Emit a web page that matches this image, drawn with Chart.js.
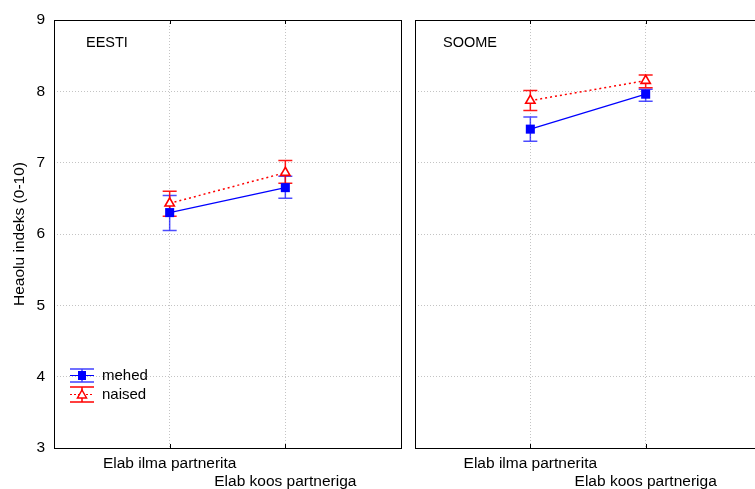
<!DOCTYPE html>
<html>
<head>
<meta charset="utf-8">
<script src="https://cdn.jsdelivr.net/npm/chart.js@4/dist/chart.umd.min.js"></script>
<style>
  html, body { margin: 0; padding: 0; background: #fff; overflow: hidden; width: 755px; height: 489px; }
  .panel { position: absolute; top: 0; height: 489px; }
</style>
</head>
<body>
<div class="panel" style="left:0;width:408px"><canvas id="eesti"></canvas></div>
<div class="panel" style="left:408px;width:360px"><canvas id="soome"></canvas></div>
<script>
/* DATA */
const categories = ["Elab ilma partnerita", "Elab koos partneriga"];
const yTicks = [3, 4, 5, 6, 7, 8, 9];

const eestiMehed = [6.30, 6.65];
const eestiMehedLow = [6.05, 6.50];
const eestiMehedHigh = [6.54, 6.81];
const eestiNaised = [6.43, 6.86];
const eestiNaisedLow = [6.25, 6.71];
const eestiNaisedHigh = [6.60, 7.03];

const soomeMehed = [7.47, 7.96];
const soomeMehedLow = [7.30, 7.86];
const soomeMehedHigh = [7.64, 8.03];
const soomeNaised = [7.87, 8.15];
const soomeNaisedLow = [7.73, 8.05];
const soomeNaisedHigh = [8.01, 8.23];

const FONT = "Liberation Sans, Arial, sans-serif";
const BLUE = "#0000ff";
const RED = "#ff0000";
const GRID = "#c4c4c4";

function pts(vals) {
    return vals.map((v, i) => ({ x: i, y: v }));
}

/* error bars + box + panel title + optional legend */
function panelPlugin(title, titleX, bars, showLegend) {
    return {
        id: "panel",
        beforeDatasetsDraw(chart) {
            const ctx = chart.ctx, xs = chart.scales.x, ys = chart.scales.y;
            ctx.save();
            bars.forEach(b => {
                ctx.strokeStyle = b.color;
                ctx.lineWidth = 1.5;
                b.low.forEach((lo, i) => {
                    const x = xs.getPixelForValue(i);
                    const y1 = ys.getPixelForValue(lo), y2 = ys.getPixelForValue(b.high[i]);
                    ctx.beginPath();
                    ctx.moveTo(x, y1); ctx.lineTo(x, y2);
                    ctx.moveTo(x - 7, y1); ctx.lineTo(x + 7, y1);
                    ctx.moveTo(x - 7, y2); ctx.lineTo(x + 7, y2);
                    ctx.stroke();
                });
            });
            ctx.restore();
        },
        afterDraw(chart) {
            const ctx = chart.ctx, a = chart.chartArea;
            ctx.save();
            ctx.strokeStyle = "#000";
            ctx.lineWidth = 1;
            ctx.strokeRect(Math.round(a.left) + 0.5, Math.round(a.top) + 0.5,
                Math.round(a.right - a.left), Math.round(a.bottom - a.top));
            // category tick marks inside top and bottom
            const xs = chart.scales.x;
            ctx.beginPath();
            categories.forEach((c, i) => {
                const x = Math.round(xs.getPixelForValue(i)) + 0.5;
                ctx.moveTo(x, a.top); ctx.lineTo(x, a.top + 4);
                ctx.moveTo(x, a.bottom); ctx.lineTo(x, a.bottom - 4);
            });
            ctx.stroke();
            ctx.fillStyle = "#000";
            ctx.font = "14.5px " + FONT;
            ctx.textBaseline = "middle";
            ctx.textAlign = "left";
            ctx.fillText(title, a.left + titleX, 43);
            if (showLegend) {
                const lx = 82;
                // mehed
                ctx.strokeStyle = "rgba(0,0,255,0.75)";
                ctx.lineWidth = 1.5;
                ctx.beginPath();
                ctx.moveTo(lx - 12, 369); ctx.lineTo(lx + 12, 369);
                ctx.moveTo(lx - 12, 382); ctx.lineTo(lx + 12, 382);
                ctx.moveTo(lx, 369); ctx.lineTo(lx, 382);
                ctx.stroke();
                ctx.strokeStyle = BLUE; ctx.lineWidth = 1;
                ctx.beginPath(); ctx.moveTo(lx - 12, 375.5); ctx.lineTo(lx + 12, 375.5); ctx.stroke();
                ctx.fillStyle = BLUE;
                ctx.fillRect(lx - 4, 371, 8, 9);
                // naised
                ctx.strokeStyle = RED; ctx.lineWidth = 1.5;
                ctx.beginPath();
                ctx.moveTo(lx - 12, 387); ctx.lineTo(lx + 12, 387);
                ctx.moveTo(lx - 12, 402); ctx.lineTo(lx + 12, 402);
                ctx.moveTo(lx, 387); ctx.lineTo(lx, 402);
                ctx.stroke();
                ctx.lineWidth = 1; ctx.setLineDash([2, 2]);
                ctx.beginPath(); ctx.moveTo(lx - 12, 394.5); ctx.lineTo(lx + 12, 394.5); ctx.stroke();
                ctx.setLineDash([]);
                ctx.fillStyle = "#fff"; ctx.lineWidth = 1.5;
                ctx.beginPath();
                ctx.moveTo(lx, 390); ctx.lineTo(lx + 4.5, 398); ctx.lineTo(lx - 4.5, 398); ctx.closePath();
                ctx.fill(); ctx.stroke();
                ctx.fillStyle = "#000";
                ctx.font = "15px " + FONT;
                ctx.fillText("mehed", 102, 376);
                ctx.fillText("naised", 102, 395);
            }
            ctx.restore();
        }
    };
}

function makeChart(id, title, titleX, mehed, mLow, mHigh, naised, nLow, nHigh, isLeft) {
    return new Chart(document.getElementById(id), {
        type: "line",
        data: {
            datasets: [{
                label: "mehed",
                data: pts(mehed),
                borderColor: BLUE,
                backgroundColor: BLUE,
                borderWidth: 1.2,
                pointStyle: "rect",
                pointRadius: 6.4,
                pointBorderWidth: 0,
                pointBackgroundColor: BLUE
            }, {
                label: "naised",
                data: pts(naised),
                borderColor: RED,
                backgroundColor: "#fff",
                borderWidth: 1.5,
                borderDash: [2, 3],
                pointStyle: "triangle",
                pointRadius: 5.4,
                pointBorderWidth: 1.6,
                pointBorderColor: RED,
                pointBackgroundColor: "#fff"
            }]
        },
        options: {
            responsive: true,
            maintainAspectRatio: false,
            animation: false,
            layout: { padding: { top: 20, right: 5, left: isLeft ? 0 : 7, bottom: 0 } },
            plugins: { legend: { display: false }, tooltip: { enabled: false } },
            scales: {
                x: {
                    type: "linear",
                    min: -1,
                    max: 2,
                    afterBuildTicks: s => { s.ticks = categories.map((c, i) => ({ value: i })); },
                    afterFit: s => { s.height = 41; },
                    border: { display: false, dash: [1, 2] },
                    grid: { color: GRID, drawTicks: false, lineWidth: 1 },
                    ticks: {
                        padding: 6,
                        maxRotation: 0,
                        autoSkip: false,
                        color: "#000",
                        font: { family: FONT, size: 15.5, lineHeight: 1.2 },
                        callback: v => v === 0 ? categories[0] : ["", categories[1]]
                    }
                },
                y: {
                    min: 3,
                    max: 9,
                    afterBuildTicks: s => { s.ticks = yTicks.map(v => ({ value: v })); },
                    afterFit: s => { s.width = isLeft ? 54 : 0; },
                    border: { display: false, dash: [1, 2] },
                    grid: {
                        drawTicks: false,
                        lineWidth: 1,
                        color: ctx => (ctx.tick && (ctx.tick.value === 3 || ctx.tick.value === 9)) ? "rgba(0,0,0,0)" : GRID
                    },
                    title: {
                        display: isLeft,
                        text: "Heaolu indeks (0-10)",
                        color: "#000",
                        font: { family: FONT, size: 15.5 },
                        padding: { top: 10, bottom: 0 }
                    },
                    ticks: {
                        display: isLeft,
                        padding: 9,
                        color: "#000",
                        font: { family: FONT, size: 15.5 }
                    }
                }
            }
        },
        plugins: [panelPlugin(title, titleX, [
            { low: mLow, high: mHigh, color: "rgba(0,0,255,0.7)" },
            { low: nLow, high: nHigh, color: "rgba(255,0,0,0.9)" }
        ], isLeft)]
    });
}

makeChart("eesti", "EESTI", 32, eestiMehed, eestiMehedLow, eestiMehedHigh,
    eestiNaised, eestiNaisedLow, eestiNaisedHigh, true);
makeChart("soome", "SOOME", 28, soomeMehed, soomeMehedLow, soomeMehedHigh,
    soomeNaised, soomeNaisedLow, soomeNaisedHigh, false);
</script>
</body>
</html>
